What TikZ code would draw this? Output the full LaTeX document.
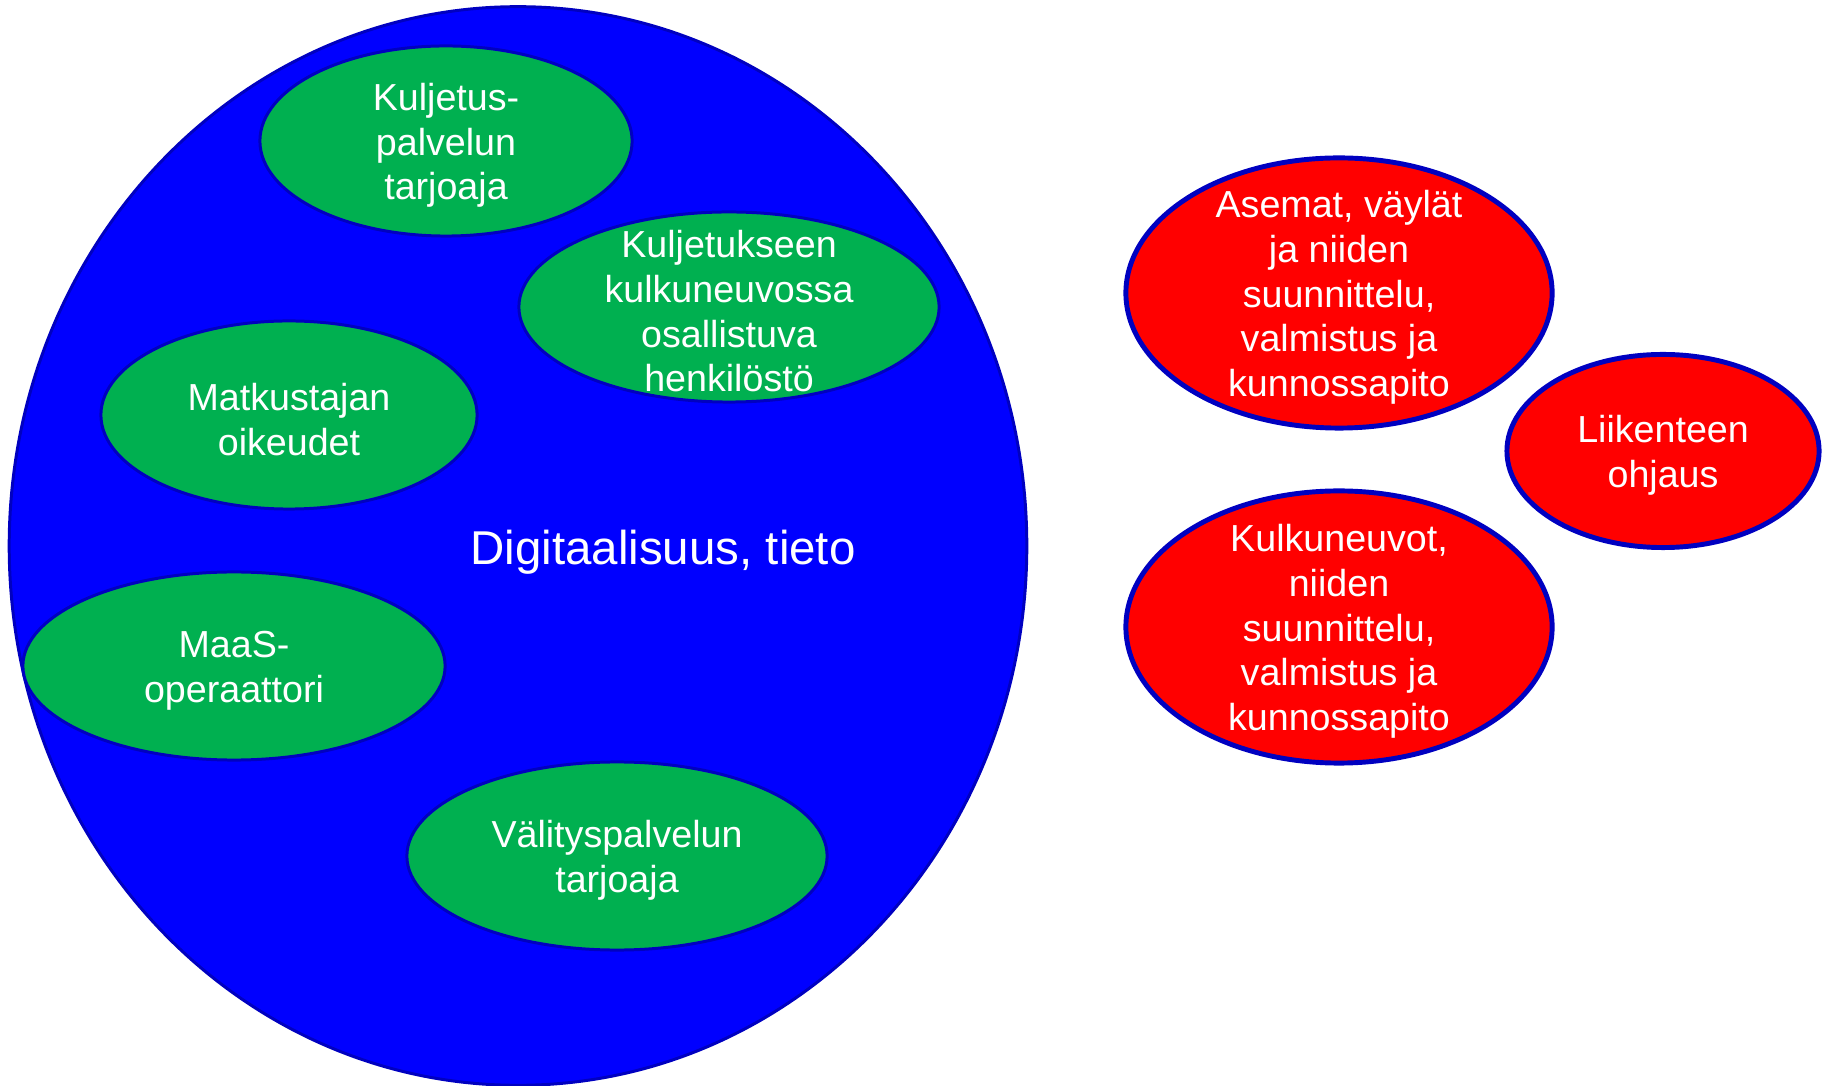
\documentclass[tikz,border=0pt]{standalone}
\usepackage{fontspec}
\setmainfont{Liberation Sans}
\usetikzlibrary{shapes.geometric}

\begin{document}
\begin{tikzpicture}[x=0.01cm, y=-0.01cm]

    % style
    \definecolor{myblue}{RGB}{0, 0, 255}
    \definecolor{myedge}{RGB}{0, 0, 192}
    \definecolor{mygreen}{RGB}{0, 176, 80}
    \definecolor{myred}{RGB}{255, 0, 0}
    \tikzset{
        bubble/.style={ellipse, draw=myedge, line width=.85pt, inner sep=0pt},
        txt/.style={text=white, align=center, inner sep=0pt, yshift=-0.045cm, font=\fontsize{10.7}{12.7}\selectfont}
    }

    % page size
    \useasboundingbox (0,0) rectangle (1822,1086);

    % big blue ellipse
    \node [bubble, fill=myblue, minimum width=10.17cm, minimum height=10.78cm] (Digital) at (518,546) {};
    \node [txt, font=\fontsize{13.5}{16}\selectfont] (DigitalText) at (663,548) {Digitaalisuus, tieto};

    % green actors inside
    \foreach \name/\x/\y/\w/\h/\ntext in {
        Transport/446/141/3.72/1.90/{Kuljetus-\\palvelun\\tarjoaja},
        Staff/729/307/4.20/1.90/{Kuljetukseen\\kulkuneuvossa\\osallistuva\\henkilöstö},
        Rights/289/415/3.76/1.88/{Matkustajan\\oikeudet},
        Maas/234/666/4.22/1.88/{MaaS-\\operaattori},
        Broker/617/856/4.20/1.88/{Välityspalvelun\\tarjoaja}}
    {
        \node [bubble, fill=mygreen, minimum width=\w cm, minimum height=\h cm] (\name) at (\x,\y) {};
        \node [txt] (\name Text) at (\name) {\ntext};
    }

    % red ones outside
    \foreach \name/\x/\y/\w/\h/\ntext in {
        Stations/1339/293/4.26/2.70/{Asemat, väylät\\ja niiden\\suunnittelu,\\valmistus ja\\kunnossapito},
        Control/1663/451/3.12/1.93/{Liikenteen\\ohjaus},
        Vehicles/1339/627/4.26/2.72/{Kulkuneuvot,\\niiden\\suunnittelu,\\valmistus ja\\kunnossapito}}
    {
        \node [bubble, fill=myred, line width=1.4pt, minimum width=\w cm, minimum height=\h cm] (\name) at (\x,\y) {};
        \node [txt] (\name Text) at (\name) {\ntext};
    }

\end{tikzpicture}
\end{document}
